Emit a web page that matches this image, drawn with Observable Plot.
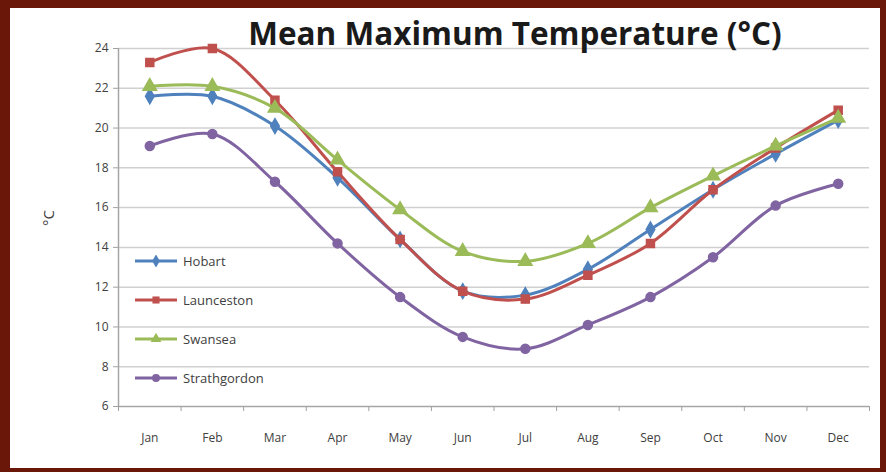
<!DOCTYPE html>
<html><head><meta charset="utf-8">
<script src="https://cdn.jsdelivr.net/npm/d3@7"></script>
<script src="https://cdn.jsdelivr.net/npm/@observablehq/plot@0.6"></script>
<style>
body{margin:0;background:#6a1709;width:886px;height:472px;overflow:hidden;font-family:"Open Sans",sans-serif;}
#panel{position:absolute;left:10px;top:8px;width:870px;height:460px;background:#fff;}
#title{position:absolute;left:0;width:870px;top:3px;line-height:34px;text-align:center;font:bold 31.5px "Open Sans",sans-serif;color:#1a1a1a;padding-left:140px;box-sizing:border-box;letter-spacing:0px}
#ylab{position:absolute;left:30px;top:200px;transform:rotate(-90deg);font:15px "Open Sans",sans-serif;color:#404040}
#legend{position:absolute;left:125px;top:233px;}
.li{height:39px;display:flex;align-items:center;font:13px "Open Sans",sans-serif;color:#404040}
.li svg{margin-right:6px}
</style></head>
<body>
<div id="panel"><div id="chart"></div><div id="title">Mean Maximum Temperature (°C)</div><div id="ylab">°C</div><div id="legend"></div></div>
<script>
const months = ["Jan","Feb","Mar","Apr","May","Jun","Jul","Aug","Sep","Oct","Nov","Dec"];
const seriesNames = ["Hobart","Launceston","Swansea","Strathgordon"];
const hobart = [21.6,21.6,20.1,17.5,14.4,11.8,11.6,12.9,14.9,16.9,18.7,20.4];
const launceston = [23.3,24.0,21.4,17.8,14.4,11.8,11.4,12.6,14.2,16.9,19.0,20.9];
const swansea = [22.1,22.1,21.0,18.4,15.9,13.8,13.3,14.2,16.0,17.6,19.1,20.5];
const strathgordon = [19.1,19.7,17.3,14.2,11.5,9.5,8.9,10.1,11.5,13.5,16.1,17.2];
const yTicks = [6,8,10,12,14,16,18,20,22,24];
const colors = ["#4f81bd","#c0504d","#9bbb59","#8064a2"];
const symbols = ["diamond","square","triangle","circle"];

const all = [hobart,launceston,swansea,strathgordon];
const data = [];
all.forEach((vals,s)=>vals.forEach((v,i)=>data.push({series:seriesNames[s],x:i+0.5,month:months[i],value:v})));

const marks = [
  Plot.ruleY(yTicks.filter(v=>v>6),{stroke:"#d0d0d0",strokeWidth:1.5}),
  Plot.axisY({ticks:yTicks,tickSize:5,tickPadding:5,stroke:"#a0a0a0",fill:"#404040",fontSize:12,label:null}),
  Plot.ruleX([0],{stroke:"#a6a6a6",strokeWidth:1.5}),
  Plot.ruleY([6],{stroke:"#a6a6a6",strokeWidth:1.5}),
  Plot.axisX({ticks:d3.range(0,13),tickFormat:()=>"",tickSize:5,stroke:"#a0a0a0",label:null}),
  Plot.axisX({ticks:months.map((m,i)=>i+0.5),tickFormat:d=>months[Math.floor(d)],tickSize:0,tickPadding:27,fill:"#404040",fontSize:12,label:null})
];
seriesNames.forEach((name,s)=>{
  const d = data.filter(r=>r.series===name);
  marks.push(Plot.line(d,{x:"x",y:"value",stroke:colors[s],strokeWidth:3,curve:"catmull-rom"}));
  marks.push(Plot.dot(d,{x:"x",y:"value",fill:colors[s],stroke:colors[s],symbol:()=>symbols[s],r:s===2?5:4.5}));
});

const chart = Plot.plot({
  width:870,height:460,marginLeft:108,marginRight:11,marginTop:40,marginBottom:62,
  style:{background:"transparent",fontFamily:"Open Sans, sans-serif"},
  x:{type:"linear",domain:[0,12],axis:null},
  y:{domain:[6,24],axis:null},
  symbol:{type:"identity"},
  marks
});
document.getElementById("chart").append(chart);

const leg = document.getElementById("legend");
seriesNames.forEach((name,s)=>{
  const row = document.createElement("div"); row.className="li";
  const sym = d3.symbol().type({diamond:d3.symbolDiamond,square:d3.symbolSquare,triangle:d3.symbolTriangle,circle:d3.symbolCircle}[symbols[s]]).size(50)();
  row.innerHTML = `<svg width="42" height="12"><line x1="0" y1="6" x2="42" y2="6" stroke="${colors[s]}" stroke-width="3"/><path transform="translate(21,6)" d="${sym}" fill="${colors[s]}"/></svg><span>${name}</span>`;
  leg.append(row);
});
</script>
</body></html>
